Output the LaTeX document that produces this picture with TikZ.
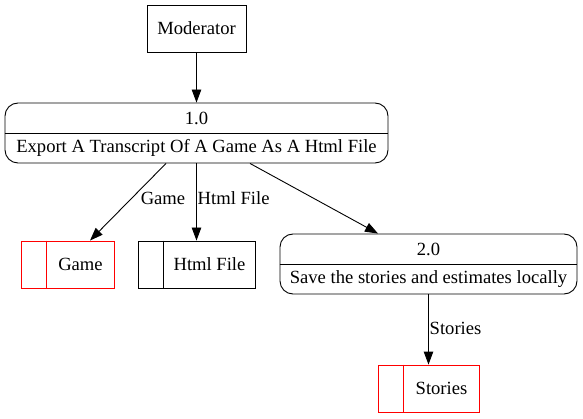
\documentclass[tikz,border=0pt]{standalone}
\usepackage{fontspec}
\setmainfont{Liberation Serif}
\usetikzlibrary{arrows.meta}
\newcommand{\dfdfont}{\rmfamily\fontsize{18.6pt}{22pt}\selectfont}
\tikzset{
  flow/.style={draw, line width=0.9pt, -{Triangle[length=13pt,width=9.5pt]}},
  entity/.style={draw, line width=0.9pt, minimum width=99pt, minimum height=47pt, inner sep=0pt, font=\dfdfont},
  process/.style={draw, line width=0.9pt, rounded corners=13pt, minimum height=60pt, inner sep=0pt},
  store/.style={draw, line width=0.9pt, minimum height=47pt, inner sep=0pt},
  divider/.style={draw, line width=0.9pt},
  lbl/.style={inner sep=0pt, font=\dfdfont},
}
\begin{document}
\begin{tikzpicture}[x=1pt,y=-1pt]
  \fill[white] (0,0) rectangle (583,419);
  % external entity
  \node[entity] (moderator) at (196.5,28.5) {Moderator};
  % processes
  \node[process, minimum width=383pt] (p1) at (196.5,133) {};
  \draw[divider] (p1.west) -- (p1.east);
  \node[lbl] (p1num) at (196.5,118) {1.0};
  \node[lbl] (p1txt) at (196.5,148) {Export A Transcript Of A Game As A Html File};
  \node[process, minimum width=297pt] (p2) at (428.5,264) {};
  \draw[divider] (p2.west) -- (p2.east);
  \node[lbl] (p2num) at (428.5,249) {2.0};
  \node[lbl] (p2txt) at (428.5,279) {Save the stories and estimates locally};
  % data stores
  \node[store, red, minimum width=93pt] (game) at (67.5,264.5) {};
  \draw[divider, red] ([xshift=26pt]game.north west) -- ([xshift=26pt]game.south west);
  \node[lbl] (gametxt) at (80.5,264.5) {Game};
  \node[store, minimum width=117pt] (html) at (196.5,264.5) {};
  \draw[divider] ([xshift=26pt]html.north west) -- ([xshift=26pt]html.south west);
  \node[lbl] (htmltxt) at (209.5,264.5) {Html File};
  \node[store, red, minimum width=101pt] (stories) at (428.5,388.5) {};
  \draw[divider, red] ([xshift=26pt]stories.north west) -- ([xshift=26pt]stories.south west);
  \node[lbl] (storiestxt) at (441.5,388.5) {Stories};
  % flows
  \coordinate (p1game) at ([xshift=-30.5pt]p1.south);
  \coordinate (gametop) at ([xshift=22.5pt]game.north);
  \coordinate (p1p2) at ([xshift=53.5pt]p1.south);
  \coordinate (p2top) at ([xshift=-50.5pt]p2.north);
  \draw[flow] (moderator) -- (p1);
  \draw[flow] (p1game) -- (gametop);
  \draw[flow] (p1) -- (html);
  \draw[flow] (p1p2) -- (p2top);
  \draw[flow] (p2) -- (stories);
  \node[lbl] (lgame) at (163,198) {Game};
  \node[lbl, anchor=west] (lhtml) at (197.5,198) {Html File};
  \node[lbl, anchor=west] (lstories) at (429.5,328) {Stories};
\end{tikzpicture}
\end{document}
